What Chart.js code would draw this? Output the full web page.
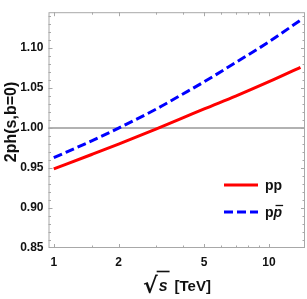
<!DOCTYPE html>
<html>
<head>
<meta charset="utf-8">
<script src="https://cdn.jsdelivr.net/npm/chart.js@4/dist/chart.umd.min.js"></script>
<style>
html,body{margin:0;padding:0;background:#fff;}
#wrap{width:307px;height:299px;position:relative;}
</style>
</head>
<body>
<div id="wrap"><canvas id="c" width="307" height="299"></canvas></div>
<script>
// sqrt(s) in TeV
const sqrtS = [1, 1.5, 2, 3, 4, 5, 7, 10, 14];
// 2ph(s,b=0) for pp
const ppValues = [0.949, 0.967, 0.980, 0.999, 1.013, 1.024, 1.040, 1.058, 1.076];
// 2ph(s,b=0) for p pbar
const ppbarValues = [0.963, 0.984, 1.000, 1.024, 1.043, 1.058, 1.082, 1.108, 1.135];
const xTickLabels = [1, 2, 5, 10];
const xMinorTicks = [1.5, 3, 4, 6, 7, 8, 9, 15];
const yTickLabels = [0.85, 0.90, 0.95, 1.00, 1.05, 1.10];
const yMinorStep = 0.01;
const refLine = 1.0;
const seriesNames = ['pp', 'pp\u0305'];
const yTitle = '2ph(s,b=0)';
const xTitleVar = 's';
const xTitleUnit = '[TeV]';

const FRAME = '#a8a8a8';
const FAM = 'Liberation Sans, Arial, sans-serif';
const boldFont = {family: FAM, size: 12, weight: 'bold'};

const framePlugin = {
  id: 'frame',
  beforeDatasetsDraw(chart) {
    const {ctx, chartArea: a, scales: {x, y}} = chart;
    ctx.save();
    const yy = y.getPixelForValue(refLine);
    ctx.strokeStyle = '#999999';
    ctx.lineWidth = 1.5;
    ctx.beginPath(); ctx.moveTo(a.left, yy); ctx.lineTo(a.right, yy); ctx.stroke();
    ctx.restore();
  },
  afterDatasetsDraw(chart) {
    const {ctx, chartArea: a, scales: {x, y}} = chart;
    ctx.save();
    ctx.strokeStyle = FRAME;
    ctx.lineWidth = 1;
    ctx.strokeRect(a.left + 0.5, a.top + 0.5, a.right - a.left - 1, a.bottom - a.top - 1);
    ctx.beginPath();
    const xt = (v, len) => {
      const px = Math.round(x.getPixelForValue(v)) + 0.5;
      if (px < a.left || px > a.right) return;
      ctx.moveTo(px, a.bottom); ctx.lineTo(px, a.bottom - len);
      ctx.moveTo(px, a.top); ctx.lineTo(px, a.top + len);
    };
    xTickLabels.forEach(v => xt(v, 4));
    xMinorTicks.forEach(v => xt(v, 2.5));
    const yt = (v, len) => {
      const py = Math.round(y.getPixelForValue(v)) + 0.5;
      if (py < a.top || py > a.bottom) return;
      ctx.moveTo(a.left, py); ctx.lineTo(a.left + len, py);
      ctx.moveTo(a.right, py); ctx.lineTo(a.right - len, py);
    };
    for (let v = y.min; v <= y.max + 1e-9; v += yMinorStep) {
      const isMajor = yTickLabels.some(t => Math.abs(t - v) < 1e-6);
      yt(v, isMajor ? 4 : 2.5);
    }
    ctx.stroke();

    // legend
    const ds = chart.data.datasets;
    const lx0 = 224, lx1 = 258;
    const ly = [185, 212];
    ds.forEach((d, i) => {
      ctx.beginPath();
      ctx.strokeStyle = d.borderColor;
      ctx.lineWidth = d.borderWidth;
      ctx.setLineDash(d.borderDash || []);
      ctx.moveTo(lx0, ly[i]); ctx.lineTo(lx1, ly[i]);
      ctx.stroke();
      ctx.setLineDash([]);
    });
    ctx.font = 'bold 14px ' + FAM;
    ctx.textBaseline = 'middle';
    ctx.fillStyle = '#111';
    ctx.fillText('pp', 265, ly[0] + 1);
    ctx.fillText('p', 265, ly[1] + 1);
    const w = ctx.measureText('p').width;
    ctx.font = 'bold italic 14px ' + FAM;
    const w2 = ctx.measureText('p').width;
    ctx.fillText('p', 265 + w, ly[1] + 1);
    ctx.beginPath();
    ctx.strokeStyle = '#111'; ctx.lineWidth = 1.3;
    ctx.moveTo(265 + w + 2, ly[1] - 6.5); ctx.lineTo(265 + w + w2 + 1, ly[1] - 6.5);
    ctx.stroke();

    // y title
    ctx.save();
    ctx.translate(12, 122);
    ctx.rotate(-Math.PI / 2);
    ctx.font = 'bold 16px ' + FAM;
    ctx.textAlign = 'center';
    ctx.textBaseline = 'middle';
    ctx.fillStyle = '#111';
    ctx.fillText(yTitle, 0, 0);
    ctx.restore();

    // x title: sqrt(s) [TeV]
    const bx = 143, base = 291;
    ctx.fillStyle = '#111';
    ctx.textBaseline = 'alphabetic';
    ctx.textAlign = 'left';
    ctx.font = 'bold 22px DejaVu Sans, ' + FAM;
    ctx.fillText('\u221A', bx, base + 2);
    const ws = ctx.measureText('\u221A').width;
    ctx.font = 'bold italic 16px ' + FAM;
    const wv = ctx.measureText(xTitleVar).width;
    ctx.fillText(xTitleVar, bx + ws + 1, base);
    ctx.beginPath();
    ctx.strokeStyle = '#111'; ctx.lineWidth = 1.6;
    ctx.moveTo(bx + ws - 1, base - 19.5); ctx.lineTo(bx + ws + wv + 3, base - 19.5);
    ctx.stroke();
    ctx.font = 'bold 15px ' + FAM;
    ctx.fillText(xTitleUnit, bx + ws + wv + 8, base);
    ctx.restore();
  }
};

new Chart(document.getElementById('c'), {
  type: 'line',
  data: {
    datasets: [
      {
        label: seriesNames[0],
        data: sqrtS.map((s, i) => ({x: s, y: ppValues[i]})),
        borderColor: '#ff0000',
        borderWidth: 3,
        pointRadius: 0,
        cubicInterpolationMode: 'monotone',
        fill: false
      },
      {
        label: seriesNames[1],
        data: sqrtS.map((s, i) => ({x: s, y: ppbarValues[i]})),
        borderColor: '#0000ff',
        borderWidth: 3,
        borderDash: [9, 4],
        pointRadius: 0,
        cubicInterpolationMode: 'monotone',
        fill: false
      }
    ]
  },
  options: {
    responsive: false,
    animation: false,
    devicePixelRatio: 1,
    layout: {padding: {top: 3, right: 2, left: 0, bottom: 0}},
    plugins: {legend: {display: false}, tooltip: {enabled: false}},
    scales: {
      x: {
        type: 'logarithmic',
        min: 0.945,
        max: 14.7,
        afterBuildTicks(s) { s.ticks = xTickLabels.map(v => ({value: v})); },
        afterFit(s) { s.height = 51; },
        grid: {display: false, drawTicks: false},
        border: {display: false},
        ticks: {
          color: '#111',
          font: boldFont,
          padding: 7,
          maxRotation: 0,
          autoSkip: false,
          callback: v => String(v)
        },
        title: {display: false}
      },
      y: {
        min: 0.85,
        max: 1.145,
        afterBuildTicks(s) { s.ticks = yTickLabels.map(v => ({value: v})); },
        afterFit(s) { s.width = 48.5; },
        grid: {display: false, drawTicks: false},
        border: {display: false},
        ticks: {
          color: '#111',
          font: boldFont,
          padding: 5,
          autoSkip: false,
          callback: v => Number(v).toFixed(2)
        },
        title: {display: false}
      }
    }
  },
  plugins: [framePlugin]
});
</script>
</body>
</html>
